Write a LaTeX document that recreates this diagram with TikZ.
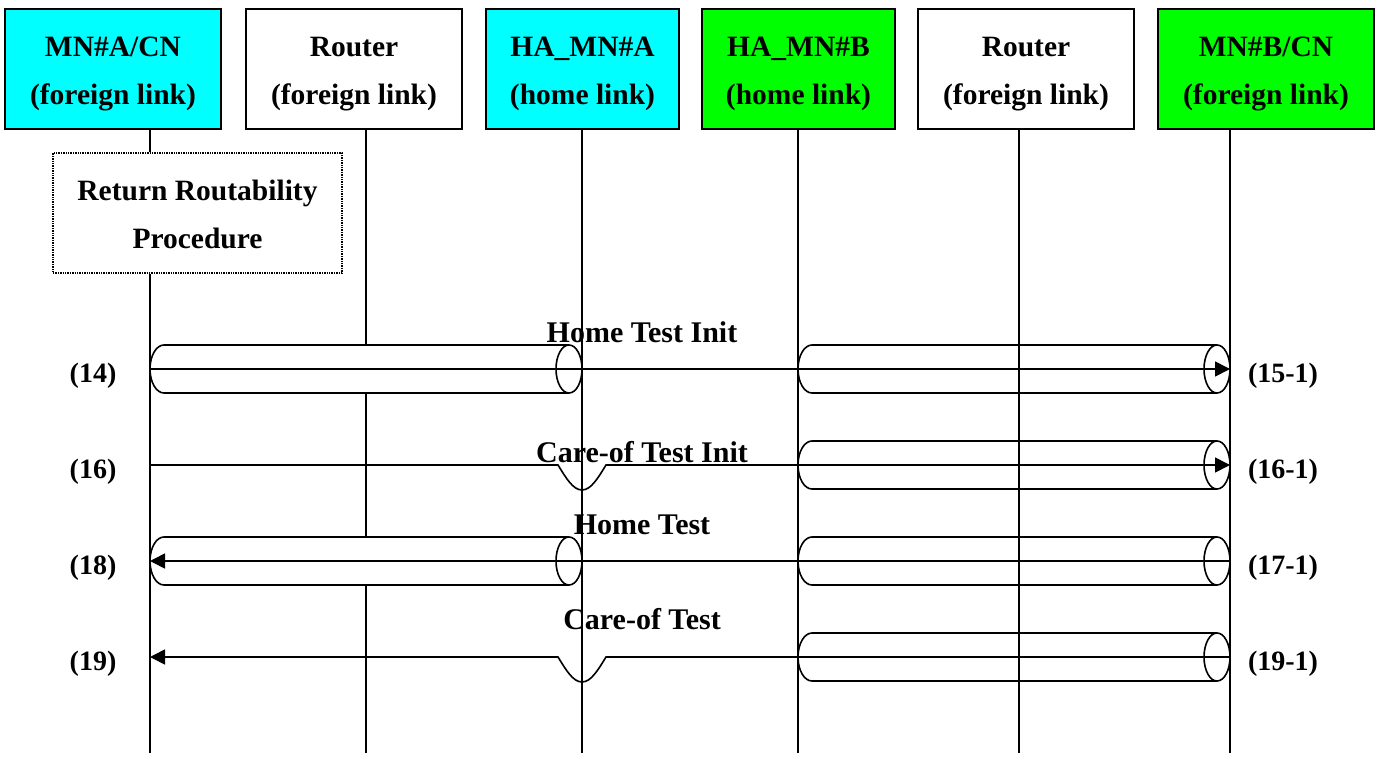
\documentclass[tikz,border=0pt]{standalone}
\usepackage{fontspec}
\setmainfont{Liberation Serif}
\usetikzlibrary{arrows.meta}
\definecolor{aquabox}{RGB}{0,255,255}
\definecolor{limebox}{RGB}{0,255,0}
\newcommand\tunnelat[4]{%
  \path[tun, fill=#4] ({#1+14},{#3+24}) -- ({#2-13},{#3+24})
    arc[start angle=90, end angle=-90, x radius=13, y radius=24]
    -- ({#1+14},{#3-24})
    arc[start angle=270, end angle=90, x radius=14, y radius=24] -- cycle;
  \draw[life] ({#2-13},{#3+24}) arc[start angle=90, end angle=270, x radius=13, y radius=24];}
\begin{document}
\begin{tikzpicture}[x=1pt, y=1pt,
  boxtext/.style={inner sep=0pt, font=\bfseries\fontsize{29.5}{48}\selectfont,
    align=center, text height=78pt, text depth=8pt},
  actor/.style={draw, line width=2.2pt, minimum height=120pt, boxtext},
  life/.style={line width=1.6pt},
  tun/.style={draw, line width=1.6pt},
  msg/.style={line width=1.6pt, -{Triangle[length=15pt, width=15pt]}},
  mlabel/.style={font=\bfseries\fontsize{30}{36}\selectfont, anchor=base, inner sep=0pt},
  rlabel/.style={font=\bfseries\fontsize{28}{34}\selectfont, anchor=base, inner sep=0pt},
]
\useasboundingbox (0,0) rectangle (1383,-760);

% participants
\node[actor, fill=aquabox, minimum width=216pt] (mna) at (113,-69) {MN\#A/CN\\(foreign link)};
\node[actor, fill=white, minimum width=216pt] (r1) at (354,-69) {Router\\(foreign link)};
\node[actor, fill=aquabox, minimum width=193pt] (haa) at (582.5,-69) {HA\_MN\#A\\(home link)};
\node[actor, fill=limebox, minimum width=193pt] (hab) at (798.5,-69) {HA\_MN\#B\\(home link)};
\node[actor, fill=white, minimum width=216pt] (r2) at (1026,-69) {Router\\(foreign link)};
\node[actor, fill=limebox, minimum width=216pt] (mnb) at (1266,-69) {MN\#B/CN\\(foreign link)};

\node[draw, densely dotted, line width=1.4pt, minimum width=289pt, minimum height=120pt,
  boxtext] (rr) at (197.5,-213) {Return Routability\\Procedure};

% lifeline ends
\coordinate (e1) at (150,-753);
\coordinate (e2) at (366,-753);
\coordinate (e3) at (582,-753);
\coordinate (e4) at (798,-753);
\coordinate (e5) at (1019,-753);
\coordinate (e6) at (1230,-753);

\draw[life] (mna.south -| e1) -- (rr.north -| e1);
\draw[life] (rr.south -| e1) -- (e1);
\draw[life] (r1.south -| e2) -- (e2);

% tunnels on the left (filled)
\tunnelat{150}{582}{-369}{white}
\tunnelat{150}{582}{-561}{white}

\draw[life] (haa.south -| e3) -- (e3);
\draw[life] (hab.south -| e4) -- (e4);
\draw[life] (r2.south -| e5) -- (e5);
\draw[life] (mnb.south -| e6) -- (e6);

% tunnels on the right
\tunnelat{798}{1230}{-369}{none}
\tunnelat{798}{1230}{-465}{none}
\tunnelat{798}{1230}{-561}{none}
\tunnelat{798}{1230}{-657}{none}

% message end points
\coordinate (a14) at (150,-369);  \coordinate (b14) at (1230,-369);
\coordinate (a16) at (150,-465);  \coordinate (b16) at (1230,-465);
\coordinate (a18) at (150,-561);  \coordinate (b18) at (1230,-561);
\coordinate (a19) at (150,-657);  \coordinate (b19) at (1230,-657);
\coordinate (h16) at (582,-465);
\coordinate (h19) at (582,-657);

\draw[msg] (a14) -- (b14);
\draw[msg] (a16) -- ([xshift=-24pt]h16)
  .. controls ([xshift=-16pt,yshift=-13pt]h16) and ([xshift=-9pt,yshift=-25pt]h16) .. ([yshift=-25pt]h16)
  .. controls ([xshift=9pt,yshift=-25pt]h16) and ([xshift=16pt,yshift=-13pt]h16) .. ([xshift=24pt]h16)
  -- (b16);
\draw[msg] (b18) -- (a18);
\draw[msg] (b19) -- ([xshift=24pt]h19)
  .. controls ([xshift=16pt,yshift=-13pt]h19) and ([xshift=9pt,yshift=-25pt]h19) .. ([yshift=-25pt]h19)
  .. controls ([xshift=-9pt,yshift=-25pt]h19) and ([xshift=-16pt,yshift=-13pt]h19) .. ([xshift=-24pt]h19)
  -- (a19);

% message labels
\node[mlabel] (m14) at (642,-342) {Home Test Init};
\node[mlabel] (m16) at (642,-462) {Care-of Test Init};
\node[mlabel] (m18) at (642,-534) {Home Test};
\node[mlabel] (m19) at (642,-629) {Care-of Test};

% step labels
\node[rlabel] (l14) at (93,-382) {(14)};
\node[rlabel] (l16) at (93,-478) {(16)};
\node[rlabel] (l18) at (93,-574) {(18)};
\node[rlabel] (l19) at (93,-670) {(19)};
\node[rlabel] (r15) at (1283,-382) {(15-1)};
\node[rlabel] (r16) at (1283,-478) {(16-1)};
\node[rlabel] (r17) at (1283,-574) {(17-1)};
\node[rlabel] (r19) at (1283,-670) {(19-1)};
\end{tikzpicture}
\end{document}
